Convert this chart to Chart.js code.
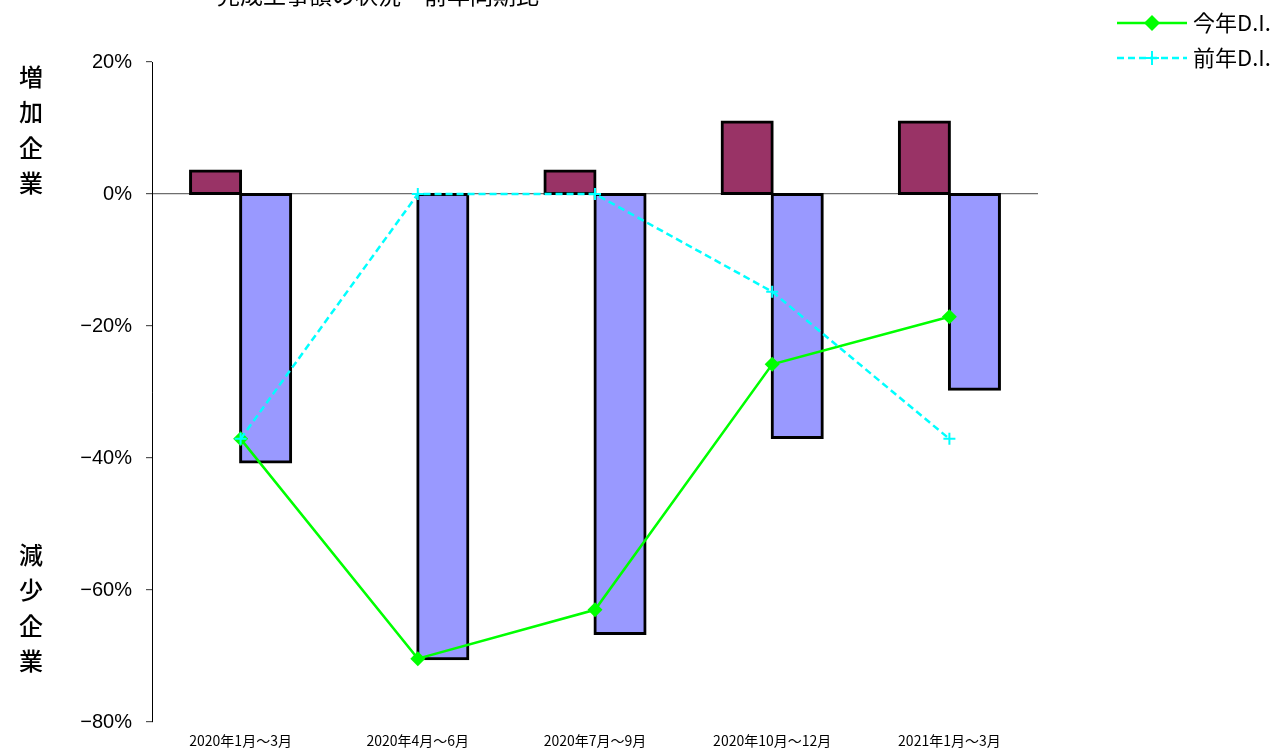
<!DOCTYPE html>
<html><head><meta charset="utf-8">
<script src="https://cdn.jsdelivr.net/npm/chart.js@4"></script>
<style>html,body{margin:0;padding:0;background:#fff;overflow:hidden}#wrap{width:1287px;height:752px;position:relative}</style>
</head><body><div id="wrap"><canvas id="c" width="1287" height="752"></canvas></div>
<script>
const titleText = '完成工事額の状況　前年同期比';
const categories = ['2020年1月～3月','2020年4月～6月','2020年7月～9月','2020年10月～12月','2021年1月～3月'];
const increaseRatio = [3.5, 0, 3.5, 10.9, 10.9];
const decreaseRatio = [-40.6, -70.4, -66.6, -36.9, -29.6];
const thisYearDI = [-37.1, -70.4, -63.0, -25.8, -18.6];
const lastYearDI = [-37.1, 0, 0, -14.8, -37.1];
const yMin = -80, yMax = 20, yStep = 20;
const seriesNames = ['今年D.I.', '前年D.I.'];
const upperLabel = '増加企業';
const lowerLabel = '減少企業';

const CJK = "'Noto Sans CJK JP', sans-serif";
const LAT = "'Liberation Sans', Arial, sans-serif";

function diamond(ctx, x, y, r, color){
  ctx.save(); ctx.fillStyle = color; ctx.beginPath();
  ctx.moveTo(x, y - r); ctx.lineTo(x + r, y); ctx.lineTo(x, y + r); ctx.lineTo(x - r, y); ctx.closePath(); ctx.fill(); ctx.restore();
}
function cross(ctx, x, y, r, color){
  ctx.save(); ctx.strokeStyle = color; ctx.lineWidth = 2; ctx.setLineDash([]); ctx.beginPath();
  ctx.moveTo(x - r, y); ctx.lineTo(x + r, y); ctx.moveTo(x, y - r); ctx.lineTo(x, y + r); ctx.stroke(); ctx.restore();
}

const decor = {
  id: 'decor',
  afterDraw(chart){
    const ctx = chart.ctx;
    ctx.save();
    ctx.fillStyle = '#000';
    ctx.font = '23px ' + CJK;
    ctx.textAlign = 'center'; ctx.textBaseline = 'alphabetic';
    ctx.fillText(titleText, 378, 4);
    ctx.font = '500 24px ' + CJK;
    ctx.textBaseline = 'middle';
    [...upperLabel].forEach((ch, i) => ctx.fillText(ch, 31, 77 + i * 35.3));
    [...lowerLabel].forEach((ch, i) => ctx.fillText(ch, 31, 555 + i * 35.3));
    const ds = chart.data.datasets;
    const rows = [{d: ds[0], y: 23}, {d: ds[1], y: 58}];
    rows.forEach(r => {
      ctx.save();
      ctx.strokeStyle = r.d.borderColor; ctx.lineWidth = r.d.borderWidth;
      ctx.setLineDash(r.d.borderDash || []);
      ctx.beginPath(); ctx.moveTo(1117, r.y); ctx.lineTo(1187, r.y); ctx.stroke();
      ctx.restore();
      if (r.d.pointStyle === 'rectRot') diamond(ctx, 1152, r.y, 8, r.d.borderColor);
      else cross(ctx, 1152, r.y, 7, r.d.borderColor);
      ctx.fillStyle = '#000'; ctx.font = '22px ' + CJK; ctx.textAlign = 'left'; ctx.textBaseline = 'middle';
      ctx.fillText(r.d.label, 1193, r.y);
    });
    ctx.restore();
  }
};

new Chart(document.getElementById('c'), {
  data: {
    labels: categories,
    datasets: [
      { type: 'line', label: seriesNames[0], data: thisYearDI, borderColor: '#00FF00', backgroundColor: '#00FF00',
        borderWidth: 2.5, pointStyle: 'rectRot', pointRadius: 7.5, pointBorderWidth: 0, pointBackgroundColor: '#00FF00',
        pointBorderColor: '#00FF00', tension: 0, order: 1 },
      { type: 'line', label: seriesNames[1], data: lastYearDI, borderColor: '#00FFFF', backgroundColor: '#00FFFF',
        borderWidth: 2.5, borderDash: [7, 4], pointStyle: 'cross', pointRadius: 6, pointBorderWidth: 2,
        pointBorderColor: '#00FFFF', tension: 0, order: 0 },
      { type: 'bar', label: '増加', data: increaseRatio, backgroundColor: '#993366', borderColor: '#000', borderWidth: 3,
        borderSkipped: false, inflateAmount: 1.5, categoryPercentage: 0.565, barPercentage: 1, order: 2 },
      { type: 'bar', label: '減少', data: decreaseRatio, backgroundColor: '#9999FF', borderColor: '#000', borderWidth: 3,
        borderSkipped: false, inflateAmount: 1.5, categoryPercentage: 0.565, barPercentage: 1, order: 2 }
    ]
  },
  options: {
    responsive: false, animation: false,
    layout: { padding: { left: 0, right: 249, top: 62, bottom: 0 } },
    plugins: { legend: { display: false }, tooltip: { enabled: false }, title: { display: false } },
    scales: {
      x: { type: 'category', offset: true, grid: { display: false, drawTicks: false }, border: { display: false },
           ticks: { color: '#000', padding: 10, maxRotation: 0, autoSkip: false, font: { family: CJK, size: 14 } },
           afterFit: s => { s.height = 30; } },
      y: { min: yMin, max: yMax,
           ticks: { stepSize: yStep, color: '#000', padding: 14, font: { family: LAT, size: 20 },
                    callback: v => (v < 0 ? '−' : '') + Math.abs(v) + '%' },
           grid: { color: c => (c.tick && c.tick.value === 0) ? '#6e6e6e' : 'rgba(0,0,0,0)', tickColor: '#555',
                   tickLength: 6, lineWidth: 1.2 },
           border: { display: true, color: '#000', width: 1 },
           afterFit: s => { s.width = 152; } }
    }
  },
  plugins: [decor]
});
</script></body></html>
